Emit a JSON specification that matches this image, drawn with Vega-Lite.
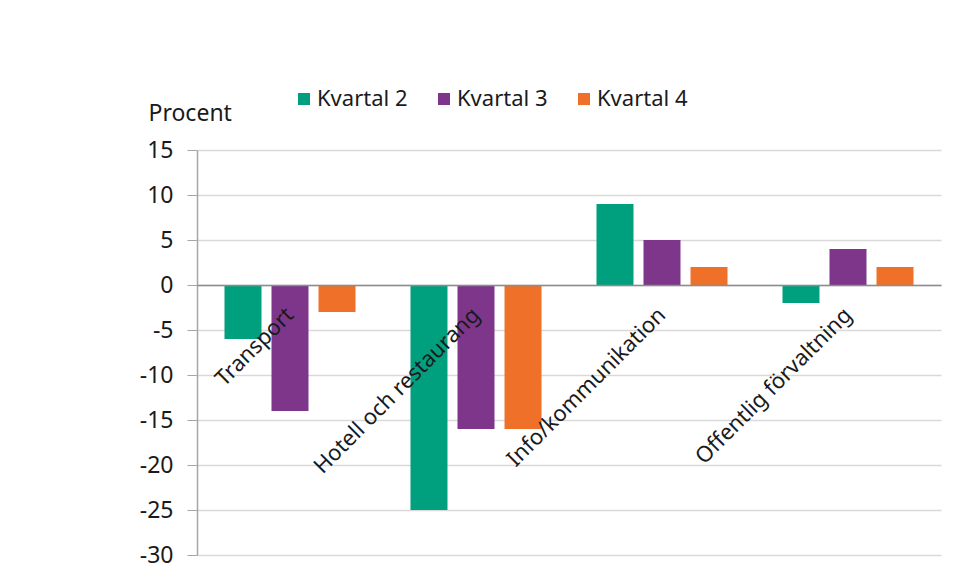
{
  "$schema": "https://vega.github.io/schema/vega-lite/v6.json",
  "width": 744,
  "height": 405,
  "autosize": {"type": "none"},
  "padding": {"left": 197, "top": 150, "right": 18, "bottom": 21},
  "background": "#ffffff",
  "config": {
    "font": "Noto Sans",
    "view": {"stroke": null},
    "axis": {"labelColor": "#1a1a1a", "titleColor": "#1a1a1a"}
  },
  "data": {
    "values": [
      {"kategori": "Transport", "kvartal": "Kvartal 2", "varde": -6},
      {"kategori": "Transport", "kvartal": "Kvartal 3", "varde": -14},
      {"kategori": "Transport", "kvartal": "Kvartal 4", "varde": -3},
      {"kategori": "Hotell och restaurang", "kvartal": "Kvartal 2", "varde": -25},
      {"kategori": "Hotell och restaurang", "kvartal": "Kvartal 3", "varde": -16},
      {"kategori": "Hotell och restaurang", "kvartal": "Kvartal 4", "varde": -16},
      {"kategori": "Info/kommunikation", "kvartal": "Kvartal 2", "varde": 9},
      {"kategori": "Info/kommunikation", "kvartal": "Kvartal 3", "varde": 5},
      {"kategori": "Info/kommunikation", "kvartal": "Kvartal 4", "varde": 2},
      {"kategori": "Offentlig förvaltning", "kvartal": "Kvartal 2", "varde": -2},
      {"kategori": "Offentlig förvaltning", "kvartal": "Kvartal 3", "varde": 4},
      {"kategori": "Offentlig förvaltning", "kvartal": "Kvartal 4", "varde": 2}
    ]
  },
  "mark": {"type": "bar"},
  "encoding": {
    "x": {
      "field": "kategori",
      "type": "nominal",
      "sort": ["Transport", "Hotell och restaurang", "Info/kommunikation", "Offentlig förvaltning"],
      "scale": {"paddingInner": 0.242, "paddingOuter": 0.121},
      "axis": {
        "title": null,
        "orient": "bottom",
        "offset": -270,
        "labelAngle": -45,
        "labelAlign": "right",
        "labelBaseline": "middle",
        "labelPadding": 26,
        "labelFontSize": 22,
        "labelLimit": 0,
        "ticks": false,
        "grid": false,
        "domainColor": "#8c8c8c",
        "domainWidth": 1.5,
        "zindex": 1
      }
    },
    "xOffset": {
      "field": "kvartal",
      "type": "nominal",
      "scale": {"paddingInner": 0.213, "paddingOuter": 0.106}
    },
    "y": {
      "field": "varde",
      "type": "quantitative",
      "scale": {"domain": [-30, 15], "nice": false, "zero": false},
      "axis": {
        "title": "Procent",
        "titleAngle": 0,
        "titleAlign": "left",
        "titleBaseline": "alphabetic",
        "titleX": -49,
        "titleY": -30,
        "titleFontSize": 23,
        "titleFontWeight": "normal",
        "values": [-30, -25, -20, -15, -10, -5, 0, 5, 10, 15],
        "labelExpr": "toString(datum.value)",
        "labelFontSize": 23,
        "labelPadding": 14,
        "tickSize": 10,
        "tickColor": "#a6a6a6",
        "domainColor": "#a6a6a6",
        "domainWidth": 1.5,
        "gridColor": "#d9d9d9",
        "gridWidth": 1.5
      }
    },
    "color": {
      "field": "kvartal",
      "type": "nominal",
      "scale": {
        "domain": ["Kvartal 2", "Kvartal 3", "Kvartal 4"],
        "range": ["#00A07F", "#7D368A", "#EE7029"]
      },
      "legend": {
        "title": null,
        "orient": "none",
        "direction": "horizontal",
        "legendX": 96,
        "legendY": -62,
        "padding": 0,
        "symbolType": "square",
        "symbolSize": 144,
        "symbolStrokeWidth": 0,
        "labelFontSize": 22,
        "labelColor": "#1a1a1a",
        "labelOffset": 2,
        "columnPadding": 25
      }
    }
  }
}
